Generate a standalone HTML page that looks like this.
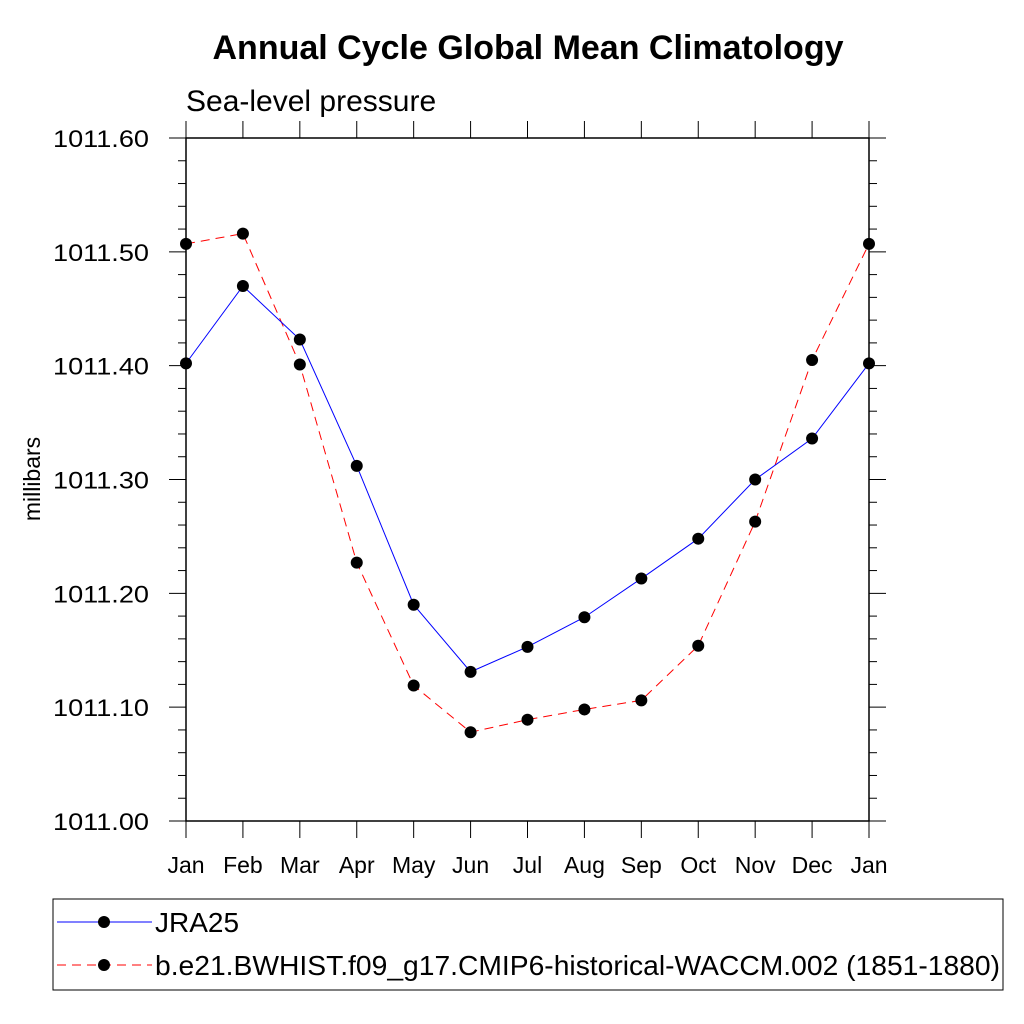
<!DOCTYPE html>
<html><head><meta charset="utf-8"><style>
body{margin:0;background:#fff;}
svg{display:block;font-family:"Liberation Sans",sans-serif;}
</style></head><body>
<svg id="chart" width="1024" height="1024" viewBox="0 0 1024 1024">
<text x="528" y="59" text-anchor="middle" font-size="34" font-weight="bold">Annual Cycle Global Mean Climatology</text>
<text x="186" y="111" font-size="30">Sea-level pressure</text>
<text transform="translate(40,479) rotate(-90)" text-anchor="middle" font-size="23">millibars</text>
<g id="axes"></g>
<g id="series"></g>
<g>
<rect x="53" y="899" width="950" height="91" fill="none" stroke="#000" stroke-width="1"/>
<g>
<line x1="57" y1="922" x2="152" y2="922" stroke="#00f" stroke-width="1"/>
<circle cx="104" cy="922" r="6" fill="#000"/>
<text x="155" y="932" font-size="28">JRA25</text></g>
<g>
<line x1="57" y1="965" x2="152" y2="965" stroke="#f00" stroke-width="1" stroke-dasharray="9,6"/>
<circle cx="104" cy="965" r="6" fill="#000"/>
<text x="155" y="975" font-size="28" textLength="845" lengthAdjust="spacingAndGlyphs">b.e21.BWHIST.f09_g17.CMIP6-historical-WACCM.002 (1851-1880)</text></g>
</g>
</svg>
<script>
const months=["Jan","Feb","Mar","Apr","May","Jun","Jul","Aug","Sep","Oct","Nov","Dec","Jan"];
const jra25=[1011.402,1011.470,1011.423,1011.312,1011.190,1011.131,1011.153,1011.179,1011.213,1011.248,1011.300,1011.336,1011.402];
const waccm=[1011.507,1011.516,1011.401,1011.227,1011.119,1011.078,1011.089,1011.098,1011.106,1011.154,1011.263,1011.405,1011.507];
const yTicks=["1011.00","1011.10","1011.20","1011.30","1011.40","1011.50","1011.60"];
const X0=186,X1=869,Y0=821,Y1=138,YMIN=1011.0,YMAX=1011.6;
const NS="http://www.w3.org/2000/svg";
function xs(i){return X0+(X1-X0)*i/(months.length-1);}
function ys(v){return Y0-(Y0-Y1)*(v-YMIN)/(YMAX-YMIN);}
function mk(tag,at,parent){const e=document.createElementNS(NS,tag);for(const k in at)e.setAttribute(k,at[k]);parent.appendChild(e);return e;}
const ax=document.getElementById('axes');
const frame=mk('rect',{x:X0,y:Y1,width:X1-X0,height:Y0-Y1,fill:'none',stroke:'#000','stroke-width':1.5},ax);


for(let k=0;k<=30;k++){
  const v=YMIN+k*0.02,y=ys(v),maj=k%5===0,L=maj?17:8;
  mk('line',{x1:X0-L,y1:y,x2:X0,y2:y,stroke:'#000','stroke-width':1},ax);
  mk('line',{x1:X1,y1:y,x2:X1+L,y2:y,stroke:'#000','stroke-width':1},ax);
}
yTicks.forEach(t=>{
  const tx=mk('text',{x:149,y:ys(parseFloat(t))+9,'text-anchor':'end','font-size':24,textLength:96,lengthAdjust:'spacingAndGlyphs'},ax);
  tx.textContent=t;
  
  
});
months.forEach((m,i)=>{
  const x=xs(i);
  mk('line',{x1:x,y1:Y1-17,x2:x,y2:Y1,stroke:'#000','stroke-width':1},ax);
  mk('line',{x1:x,y1:Y0,x2:x,y2:Y0+17,stroke:'#000','stroke-width':1},ax);
  const tx=mk('text',{x:x,y:873,'text-anchor':'middle','font-size':23},ax);
  tx.textContent=m;
  
  
});
const sg=document.getElementById('series');
function draw(vals,color,dash,name){
  const g=mk('g',{},sg);
  
  
  const pts=vals.map((v,i)=>xs(i)+','+ys(v)).join(' ');
  const pl=mk('polyline',{points:pts,fill:'none',stroke:color,'stroke-width':1,'stroke-dasharray':dash},g);
  
  
  vals.forEach((v,i)=>{
    const c=mk('circle',{cx:xs(i),cy:ys(v),r:6,fill:'#000'},g);
    
    
  });
}
draw(waccm,'#f00','9,6','series-waccm');
draw(jra25,'#00f','none','series-jra25');
</script>
</body></html>
